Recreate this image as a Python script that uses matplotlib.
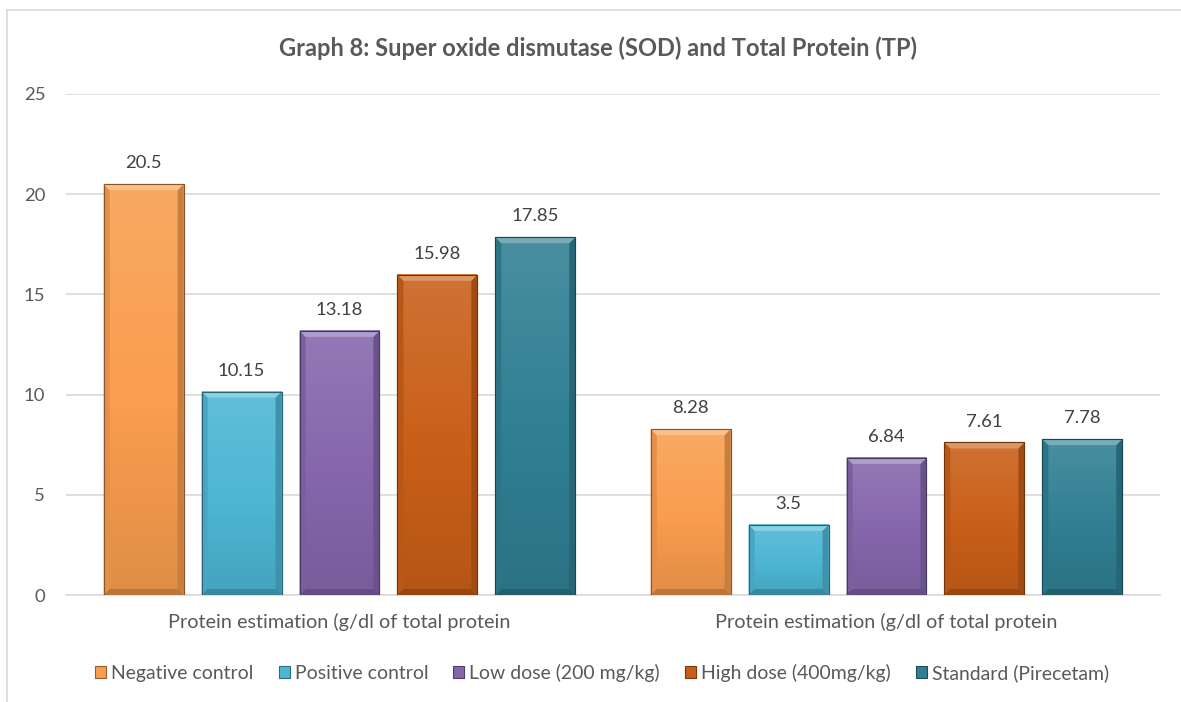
import numpy as np
import matplotlib.pyplot as plt
from matplotlib.patches import Polygon
from matplotlib.lines import Line2D
from matplotlib.colors import to_rgb

plt.rcParams['font.family'] = ['Lato', 'DejaVu Sans']

categories = ['Protein estimation (g/dl of total protein', 'Protein estimation (g/dl of total protein']
series = ['Negative control', 'Positive control', 'Low dose (200 mg/kg)',
          'High dose (400mg/kg)', 'Standard (Pirecetam)']
values = [
    [20.5, 8.28],
    [10.15, 3.5],
    [13.18, 6.84],
    [15.98, 7.61],
    [17.85, 7.78],
]
value_labels = [
    ['20.5', '8.28'],
    ['10.15', '3.5'],
    ['13.18', '6.84'],
    ['15.98', '7.61'],
    ['17.85', '7.78'],
]
colors = ['#F99D4E', '#4DB6D3', '#8566AC', '#C95F18', '#307F93']

W, H = 1181, 702
fig = plt.figure(figsize=(W / 100, H / 100), dpi=100)
ax = fig.add_axes([66 / W, 1 - 595 / H, 1094 / W, 501 / H])

# chart frame (cropped at right and bottom in the original)
fig.lines.append(Line2D([7 / W, 1], [1 - 10 / H] * 2, transform=fig.transFigure,
                        color='#D9D9D9', linewidth=1.2))
fig.lines.append(Line2D([7 / W] * 2, [0, 1 - 10 / H], transform=fig.transFigure,
                        color='#D9D9D9', linewidth=1.2))

width = 0.146
step = 0.179
x = np.arange(len(categories))
px_x = 1 / 547.0    # data units per pixel, x
px_y = 25 / 501.0   # data units per pixel, y


def shade(c, f):
    r = np.array(to_rgb(c))
    if f > 0:
        return np.clip(r + (1 - r) * f, 0, 1)
    return np.clip(r * (1 + f), 0, 1)


value_texts = []
for i, s in enumerate(series):
    pos = x + (i - 2) * step
    bars = ax.bar(pos, values[i], width, color=colors[i], label=s,
                  edgecolor=shade(colors[i], -0.4), linewidth=0.8, zorder=3)
    for b, lab in zip(bars, value_labels[i]):
        x0 = b.get_x()
        h = b.get_height()
        grad = np.linspace(0.12, -0.10, 64)
        img = np.array([[shade(colors[i], g)] for g in grad])
        ax.imshow(img, extent=[x0, x0 + width, 0, h], aspect='auto',
                  origin='upper', zorder=3.2, clip_path=b, clip_on=True)
        # bevel
        bx, by = 6 * px_x, 6 * px_y
        x1 = x0 + width
        ax.add_patch(Polygon([(x0, h), (x1, h), (x1 - bx, h - by), (x0 + bx, h - by)],
                             closed=True, color=shade(colors[i], 0.35), lw=0, zorder=3.4))
        ax.add_patch(Polygon([(x0, 0), (x1, 0), (x1 - bx, by), (x0 + bx, by)],
                             closed=True, color=shade(colors[i], -0.25), lw=0, zorder=3.4))
        ax.add_patch(Polygon([(x0, 0), (x0 + bx, by), (x0 + bx, h - by), (x0, h)],
                             closed=True, color=shade(colors[i], -0.08), lw=0, zorder=3.3))
        ax.add_patch(Polygon([(x1, 0), (x1 - bx, by), (x1 - bx, h - by), (x1, h)],
                             closed=True, color=shade(colors[i], -0.2), lw=0, zorder=3.3))
        ax.add_patch(Polygon([(x0, 0), (x1, 0), (x1, h), (x0, h)], closed=True,
                             fill=False, edgecolor=shade(colors[i], -0.45), lw=0.8, zorder=3.6))
        t = ax.annotate(lab, (x0 + width / 2, h), xytext=(0, 11.5), textcoords='offset points',
                        ha='center', va='baseline', fontsize=13, color='#404040')
        value_texts.append(t)

ax.set_xlim(-0.5, 1.5)
ax.set_ylim(0, 25)
ax.set_yticks(range(0, 26, 5))
ax.set_xticks(x)
ax.set_xticklabels(categories, fontsize=13, color='#595959')
ax.tick_params(axis='y', labelsize=13, labelcolor='#595959', length=0, pad=15)
ax.tick_params(axis='x', length=0, pad=13)
ax.grid(axis='y', color='#D9D9D9', linewidth=1.2, zorder=0)
for sp in ['top', 'right', 'left']:
    ax.spines[sp].set_visible(False)
ax.spines['bottom'].set_color('#D9D9D9')
ax.spines['bottom'].set_linewidth(1.2)

title = fig.text(598 / W, 1 - 48 / H, 'Graph 8: Super oxide dismutase (SOD) and Total Protein (TP)',
                 ha='center', va='center', fontsize=15, fontweight='bold', color='#595959')

# fit text sizes to the widths measured on the reference
fig.canvas.draw()
r = fig.canvas.get_renderer()


def fit(t, target):
    w = t.get_window_extent(r).width
    t.set_fontsize(t.get_fontsize() * target / w)


fit(title, 640)
for t in ax.get_xticklabels():
    fit(t, 342)
ref = [t for t in value_texts if t.get_text() == '15.98'][0]
fs_val = 13 * 47 / ref.get_window_extent(r).width
for t in value_texts:
    t.set_fontsize(fs_val)
ax.tick_params(axis='y', labelsize=fs_val)

probe = fig.text(0, 0, 'Negative control', fontsize=13)
fs_leg = 13 * 142 / probe.get_window_extent(r).width
probe.remove()
em = fs_leg * 100 / 72.0
leg = fig.legend(loc='center', bbox_to_anchor=(602 / W, 1 - 673 / H), ncol=5, frameon=False,
                 fontsize=fs_leg, handlelength=11 / em, handleheight=11 / em,
                 handletextpad=5 / em, columnspacing=25 / em, labelcolor='#595959',
                 borderpad=0, borderaxespad=0)

fig.savefig('out.png', dpi=100)
